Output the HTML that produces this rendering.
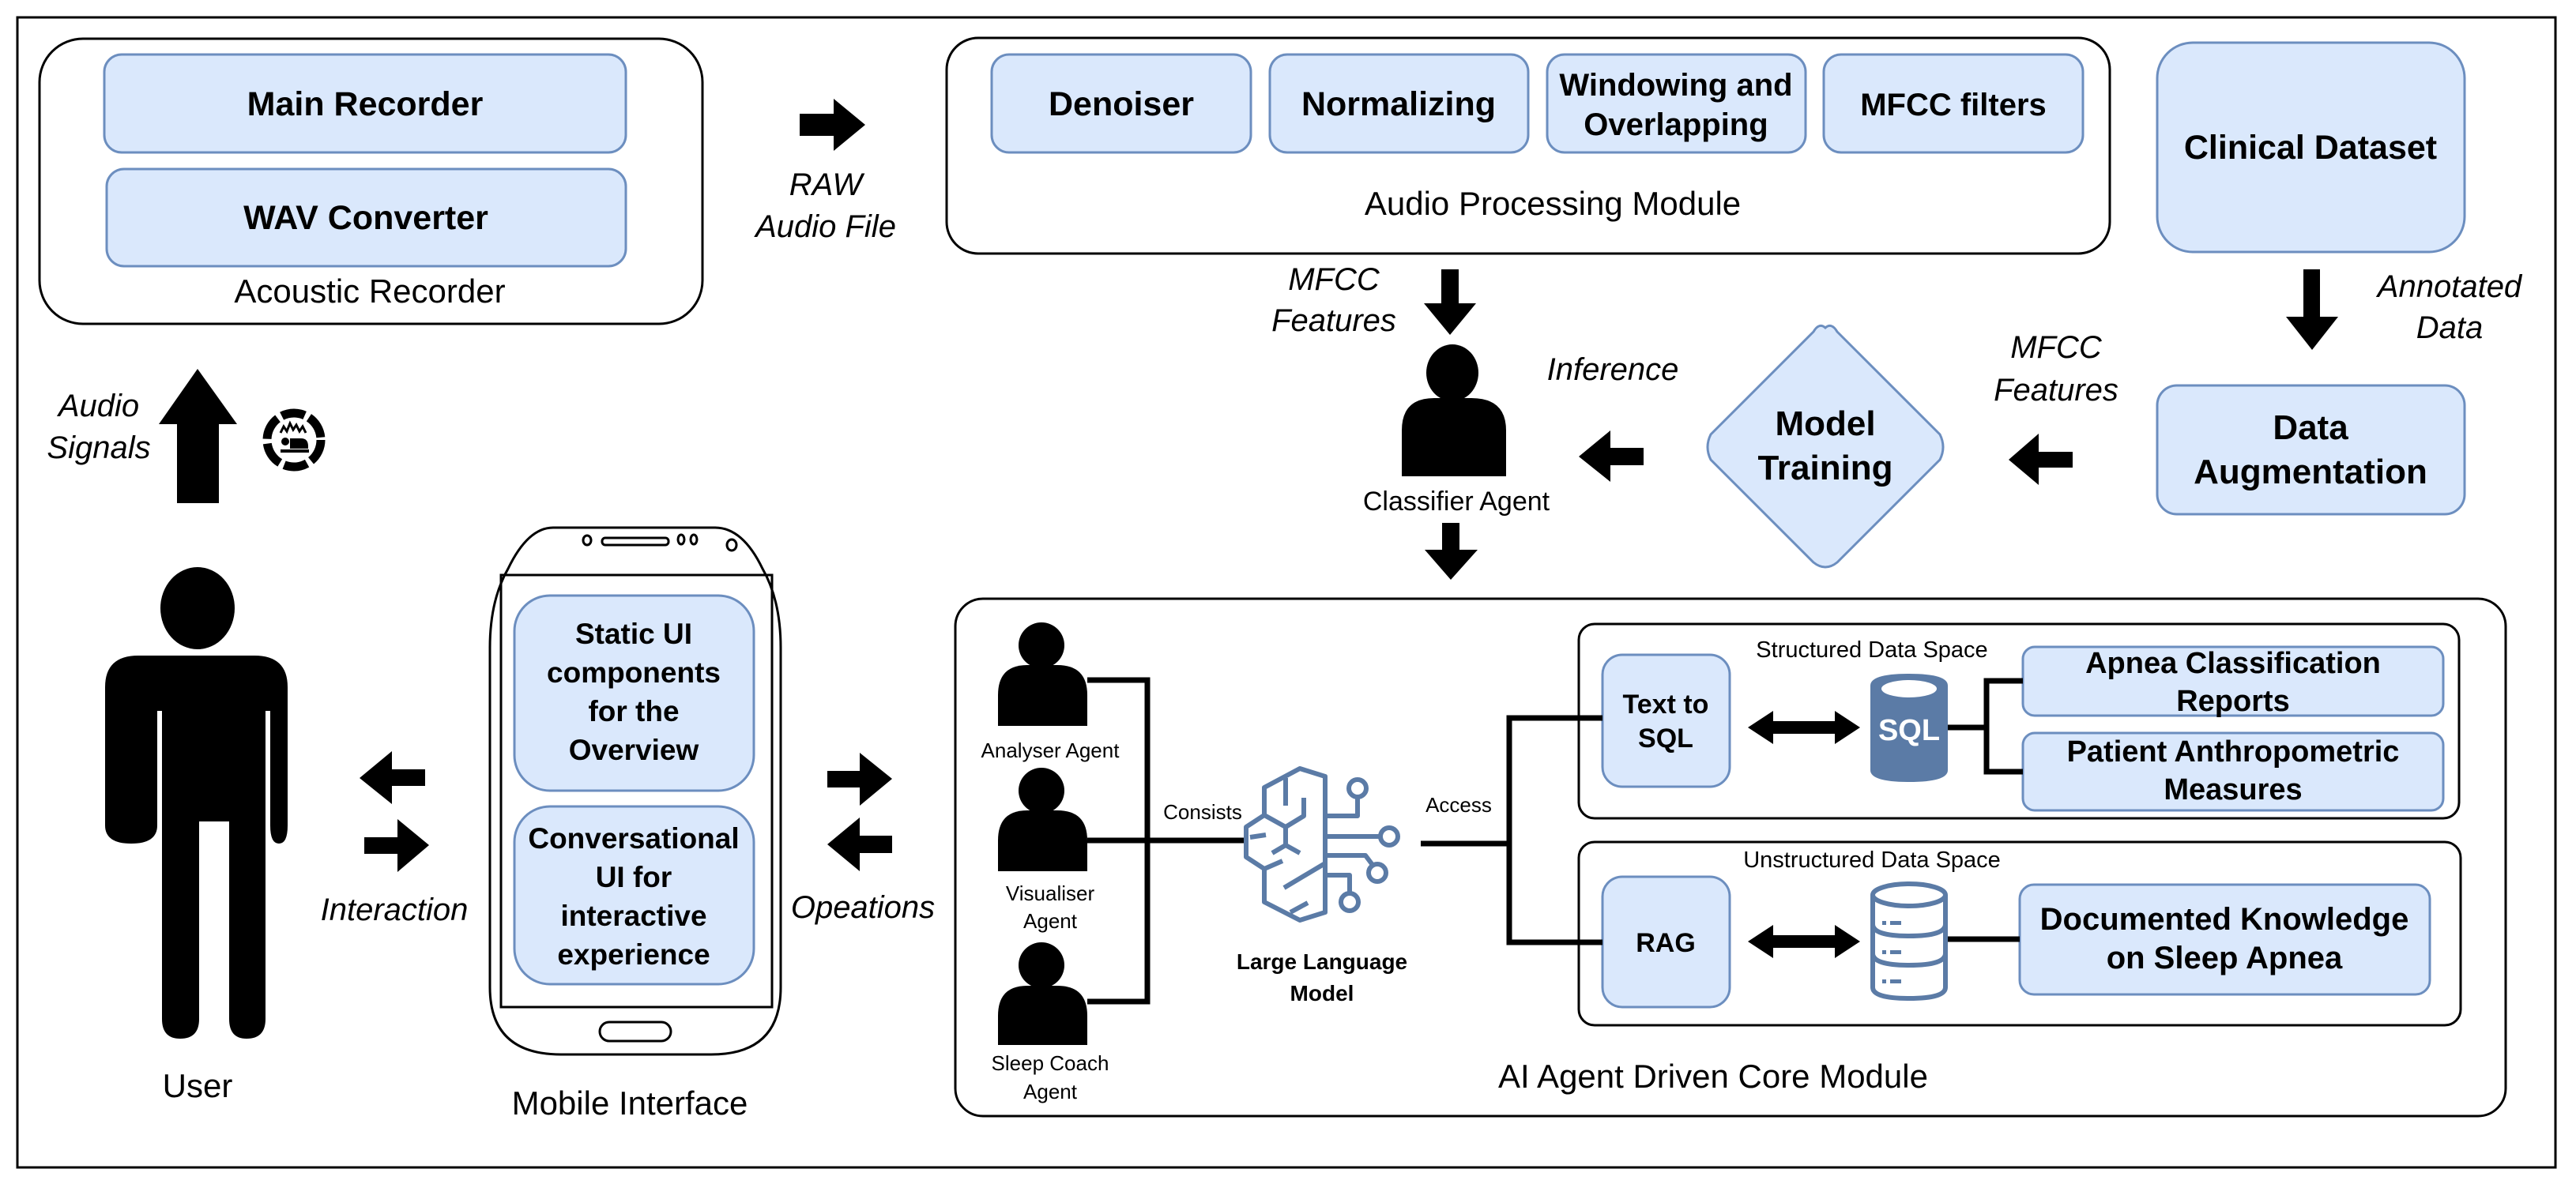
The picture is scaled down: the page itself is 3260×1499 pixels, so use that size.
<!DOCTYPE html>
<html><head><meta charset="utf-8"><style>
html,body{margin:0;padding:0;background:#fff;}
svg{display:block;font-family:"Liberation Sans",Arial,sans-serif;}
.b{font-weight:bold}
.i{font-style:italic}
</style></head><body>
<svg width="3260" height="1499" viewBox="0 0 3260 1499" xmlns="http://www.w3.org/2000/svg">
<rect x="0" y="0" width="3260" height="1499" fill="#fff"/>
<rect x="22" y="22" width="3212" height="1456" fill="none" stroke="#000" stroke-width="3"/>

<g fill="#dae8fc" stroke="#6c8ebf" stroke-width="3">
<rect x="132" y="69" width="660" height="124" rx="22"/>
<rect x="135" y="214" width="657" height="123" rx="22"/>
<rect x="1255" y="69" width="328" height="124" rx="22"/>
<rect x="1607" y="69" width="327" height="124" rx="22"/>
<rect x="1958" y="69" width="327" height="124" rx="22"/>
<rect x="2308" y="69" width="328" height="124" rx="22"/>
<rect x="2730" y="54" width="389" height="265" rx="45"/>
<rect x="2730" y="488" width="389" height="163" rx="25"/>
<path d="M2310 415 Q2318 408 2325 420 L2455 550 Q2463 566 2455 582 L2325 712 Q2310 724 2295 712 L2165 582 Q2157 566 2165 550 L2295 420 Q2302 408 2310 415Z"/>
<rect x="651" y="754" width="303" height="247" rx="45"/>
<rect x="651" y="1021" width="303" height="225" rx="45"/>
<rect x="2028" y="829" width="161" height="167" rx="25"/>
<rect x="2560" y="819" width="532" height="87" rx="15"/>
<rect x="2560" y="928" width="532" height="98" rx="15"/>
<rect x="2028" y="1110" width="161" height="165" rx="25"/>
<rect x="2556" y="1120" width="519" height="139" rx="18"/>
</g>

<g fill="none" stroke="#000" stroke-width="3">
<rect x="50" y="49" width="839" height="361" rx="55"/>
<rect x="1198" y="48" width="1472" height="273" rx="40"/>
<rect x="1209" y="758" width="1962" height="655" rx="35"/>
<rect x="1998" y="790" width="1114" height="246" rx="20"/>
<rect x="1998" y="1066" width="1116" height="232" rx="20"/>
<path d="M700 668 L905 668 Q940 668 965 720 Q988 760 988 820 L988 1250 Q988 1335 900 1335 L710 1335 Q620 1335 620 1250 L620 820 Q620 760 643 720 Q668 668 700 668Z"/>
<rect x="634" y="728" width="343" height="547"/>
<rect x="759" y="1294" width="90" height="24" rx="12"/>
<rect x="762" y="681" width="84" height="9" rx="4"/>
<ellipse cx="743" cy="684" rx="5" ry="6"/>
<ellipse cx="862" cy="683" rx="4" ry="6"/>
<ellipse cx="878" cy="683" rx="4" ry="6"/>
<ellipse cx="926" cy="690" rx="6" ry="7"/>
</g>

<g fill="none" stroke="#000" stroke-width="7">
<path d="M1376 861 H1452 V1268 H1376"/>
<path d="M1376 1064 H1574"/>
<path d="M1798 1068 H1910"/>
<path d="M2028 909 H1910 V1193 H2028"/>
<path d="M2464 921 H2514"/>
<path d="M2560 862 H2514 V977 H2560"/>
<path d="M2464 1189 H2556"/>
</g>

<g fill="#000">
<polygon points="1012,144 1055,144 1055,125 1095,158 1055,191 1055,172 1012,172"/>
<polygon points="224,637 277,637 277,537 300,537 250,467 201,537 224,537"/>
<polygon points="1824,341 1846,341 1846,384 1868,384 1835,424 1802,384 1824,384"/>
<polygon points="1825,662 1847,662 1847,696 1870,696 1836,734 1803,696 1825,696"/>
<polygon points="2915,341 2936,341 2936,401 2959,401 2926,443 2893,401 2915,401"/>
<polygon points="2623,572 2580,572 2580,549 2542,582 2580,614 2580,592 2623,592"/>
<polygon points="2080,567 2038,567 2038,545 1998,578 2038,610 2038,589 2080,589"/>
<polygon points="538,974 496,974 496,951 455,985 496,1018 496,995 538,995"/>
<polygon points="461,1060 503,1060 503,1037 543,1070 503,1104 503,1081 461,1081"/>
<polygon points="1047,976 1088,976 1088,953 1129,986 1088,1020 1088,997 1047,997"/>
<polygon points="1129,1058 1088,1058 1088,1035 1047,1069 1088,1103 1088,1080 1129,1080"/>
<polygon points="2212,921 2244,900 2244,913 2322,913 2322,900 2354,921 2322,942 2322,929 2244,929 2244,942"/>
<polygon points="2212,1192 2244,1171 2244,1184 2322,1184 2322,1171 2354,1192 2322,1213 2322,1200 2244,1200 2244,1213"/>
</g>

<g fill="#000">
<ellipse cx="250" cy="770" rx="47" ry="52"/>
<path d="M133 1045 L133 870 Q133 830 175 830 L322 830 Q364 830 364 870 L364 1045 Q364 1068 353 1068 Q342 1068 342 1045 L342 900 L336 900 L336 1290 Q336 1315 312 1315 Q290 1315 290 1290 L290 1040 L252 1040 L252 1290 Q252 1315 228 1315 Q205 1315 205 1290 L205 900 L199 900 L199 1045 Q199 1068 166 1068 Q133 1068 133 1045Z"/>
<ellipse cx="1838" cy="472" rx="33" ry="36"/>
<path d="M1774 603 L1774 545 Q1774 504 1815 504 L1862 504 Q1906 504 1906 545 L1906 603Z"/>
<ellipse cx="1318" cy="817" rx="29" ry="29"/>
<path d="M1263 919 L1263 880 Q1263 842 1300 842 L1338 842 Q1376 842 1376 880 L1376 919Z"/>
<ellipse cx="1318" cy="1001" rx="29" ry="29"/>
<path d="M1263 1103 L1263 1064 Q1263 1026 1300 1026 L1338 1026 Q1376 1026 1376 1064 L1376 1103Z"/>
<ellipse cx="1318" cy="1222" rx="29" ry="29"/>
<path d="M1263 1323 L1263 1286 Q1263 1248 1300 1248 L1338 1248 Q1376 1248 1376 1286 L1376 1323Z"/>
</g>

<g>
<circle cx="372" cy="557" r="34" fill="none" stroke="#000" stroke-width="11" stroke-dasharray="30 6"/>
<path d="M355 548 l4 -8 l4 6 l4 -10 l4 8 l4 -6 l4 8 l4 -6 l4 8" fill="none" stroke="#000" stroke-width="3"/>
<circle cx="361" cy="559" r="5" fill="#000"/>
<path d="M367 555 h14 q9 0 9 10 v3 h-23z" fill="#000"/>
<rect x="355" y="569" width="36" height="4" fill="#000"/>
</g>

<g fill="none" stroke="#5b7ba6" stroke-width="6" stroke-linejoin="round">
<path d="M1677 983 L1645 973 L1600 997 L1600 1032 L1577 1047 L1577 1085 L1600 1100 L1600 1142 L1645 1165 L1677 1155 Z"/>
<path d="M1677 1033 H1718 V1009"/><circle cx="1718" cy="998" r="11"/>
<path d="M1677 1059 H1747"/><circle cx="1758" cy="1059" r="11"/>
<path d="M1677 1083 H1728 L1737 1095"/><circle cx="1743" cy="1105" r="11"/>
<path d="M1677 1108 H1708 V1130"/><circle cx="1708" cy="1142" r="11"/>
<path d="M1627 985 V1020"/><path d="M1650 1010 V1033 L1627 1047 L1600 1032"/>
<path d="M1627 1047 V1070 L1610 1080 M1627 1070 L1645 1080"/>
<path d="M1582 1060 L1602 1057"/>
<path d="M1600 1100 L1623 1090 M1625 1124 L1677 1093"/>
<path d="M1633 1155 L1655 1143"/>
</g>

<g>
<path d="M2367 868 Q2367 853 2416 853 Q2465 853 2465 868 L2465 975 Q2465 990 2416 990 Q2367 990 2367 975Z" fill="#5b7ba6"/>
<ellipse cx="2416" cy="872" rx="35" ry="11" fill="#fff"/>
<text x="2416" y="937" font-size="38" font-weight="bold" fill="#fff" text-anchor="middle">SQL</text>
<g fill="none" stroke="#5b7ba6" stroke-width="6">
<ellipse cx="2416" cy="1133" rx="46" ry="14"/>
<path d="M2370 1133 V1250 Q2370 1264 2416 1264 Q2462 1264 2462 1250 V1133"/>
<path d="M2370 1170 Q2370 1185 2416 1185 Q2462 1185 2462 1170"/>
<path d="M2370 1207 Q2370 1222 2416 1222 Q2462 1222 2462 1207"/>
</g>
<g fill="#5b7ba6">
<rect x="2382" y="1166" width="5" height="5"/><rect x="2392" y="1166" width="14" height="5"/>
<rect x="2382" y="1203" width="5" height="5"/><rect x="2392" y="1203" width="14" height="5"/>
<rect x="2382" y="1240" width="5" height="5"/><rect x="2392" y="1240" width="14" height="5"/>
</g>
</g>

<g fill="#000" text-anchor="middle">
<g class="b" font-size="43">
<text x="462" y="146">Main Recorder</text>
<text x="463" y="290">WAV Converter</text>
<text x="1419" y="146">Denoiser</text>
<text x="1770" y="146">Normalizing</text>
<text x="2924" y="201">Clinical Dataset</text>
</g>
<g class="b" font-size="40">
<text x="2121" y="121">Windowing and</text>
<text x="2121" y="171">Overlapping</text>
<text x="2472" y="146">MFCC filters</text>
</g>
<g class="b" font-size="44">
<text x="2924" y="556">Data</text>
<text x="2924" y="612">Augmentation</text>
<text x="2310" y="551">Model</text>
<text x="2310" y="607">Training</text>
</g>
<g class="b" font-size="37">
<text x="802" y="815">Static UI</text>
<text x="802" y="864">components</text>
<text x="802" y="913">for the</text>
<text x="802" y="962">Overview</text>
<text x="802" y="1074">Conversational</text>
<text x="802" y="1123">UI for</text>
<text x="802" y="1172">interactive</text>
<text x="802" y="1221">experience</text>
</g>
<g class="b" font-size="34">
<text x="2108" y="903">Text to</text>
<text x="2108" y="946">SQL</text>
<text x="2108" y="1205">RAG</text>
</g>
<g class="b" font-size="38">
<text x="2826" y="852">Apnea Classification</text>
<text x="2826" y="900">Reports</text>
<text x="2826" y="964">Patient Anthropometric</text>
<text x="2826" y="1012">Measures</text>
</g>
<g class="b" font-size="40">
<text x="2815" y="1177">Documented Knowledge</text>
<text x="2815" y="1226">on Sleep Apnea</text>
</g>
<g class="b" font-size="28">
<text x="1673" y="1227">Large Language</text>
<text x="1673" y="1267">Model</text>
</g>
<g font-size="42">
<text x="468" y="383">Acoustic Recorder</text>
<text x="1965" y="272">Audio Processing Module</text>
<text x="250" y="1389">User</text>
<text x="797" y="1411">Mobile Interface</text>
<text x="2168" y="1377">AI Agent Driven Core Module</text>
</g>
<g font-size="34">
<text x="1843" y="646">Classifier Agent</text>
</g>
<g font-size="29">
<text x="2369" y="832">Structured Data Space</text>
<text x="2369" y="1098">Unstructured Data Space</text>
</g>
<g font-size="26">
<text x="1329" y="959">Analyser Agent</text>
<text x="1329" y="1140">Visualiser</text>
<text x="1329" y="1175">Agent</text>
<text x="1329" y="1355">Sleep Coach</text>
<text x="1329" y="1391">Agent</text>
<text x="1522" y="1037">Consists</text>
<text x="1846" y="1028">Access</text>
</g>
<g class="i" font-size="40">
<text x="1045" y="247">RAW</text>
<text x="1045" y="300">Audio File</text>
<text x="125" y="527">Audio</text>
<text x="125" y="580">Signals</text>
<text x="1688" y="367">MFCC</text>
<text x="1688" y="419">Features</text>
<text x="2041" y="481">Inference</text>
<text x="2602" y="453">MFCC</text>
<text x="2602" y="507">Features</text>
<text x="3100" y="376">Annotated</text>
<text x="3100" y="428">Data</text>
<text x="499" y="1165">Interaction</text>
<text x="1092" y="1162">Opeations</text>
</g>
</g>
</svg>
</body></html>
